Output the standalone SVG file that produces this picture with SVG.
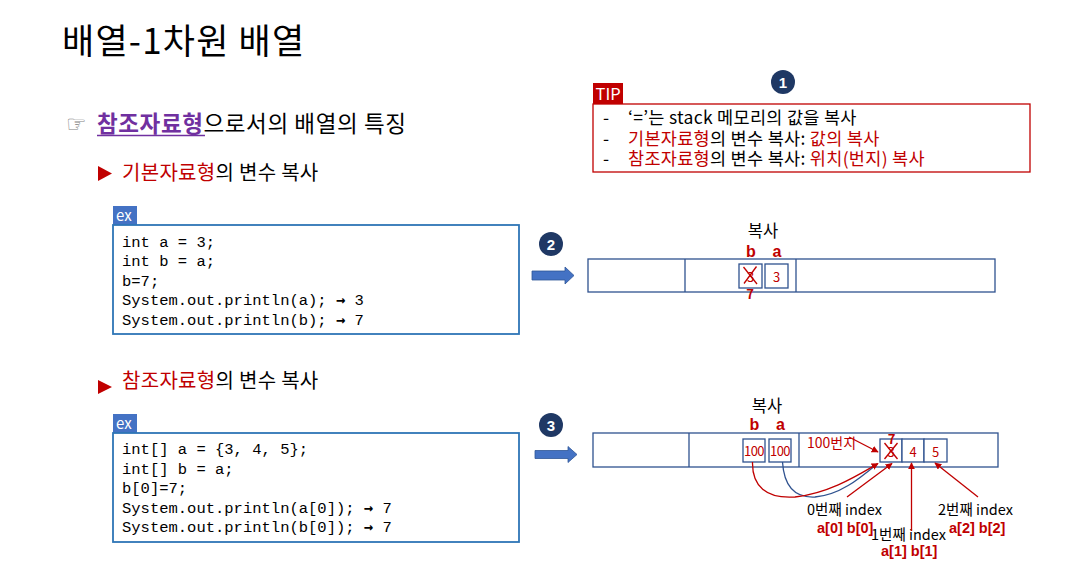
<svg xmlns="http://www.w3.org/2000/svg" width="1065" height="579" viewBox="0 0 1065 579">
<style>
.k{font-family:"Noto Sans CJK KR","Liberation Sans",sans-serif;}
.m{font-family:"Liberation Mono","DejaVu Sans Mono",monospace;font-size:15.5px;fill:#000;}
.ar{font-family:"DejaVu Sans Mono",monospace;font-weight:bold;}
.cell{fill:#fff;stroke:#2F528F;stroke-width:1.3;}
.mem{fill:#fff;stroke:#2F528F;stroke-width:1.3;}
.code{fill:#fff;stroke:#2E75B6;stroke-width:1.8;}
.exl{fill:#4472C4;}
.ext{font-family:"Noto Sans CJK KR","Liberation Sans",sans-serif;font-size:15px;fill:#fff;}
.circ{fill:#1F3864;}
.num{font-family:"Liberation Sans",sans-serif;font-size:15px;font-weight:bold;fill:#fff;text-anchor:middle;}
.barrow{fill:#4472C4;stroke:#2F5597;stroke-width:0.8;}
.rl{stroke:#C00000;stroke-width:1.3;fill:none;}
.bl{stroke:#2F528F;stroke-width:1.3;fill:none;}
.v{font-family:"Noto Sans CJK KR","Liberation Sans",sans-serif;font-size:13px;fill:#C00000;text-anchor:middle;}
.lab{font-family:"Liberation Sans",sans-serif;font-size:16px;font-weight:bold;fill:#C00000;text-anchor:middle;}
.idx{font-family:"Noto Sans CJK KR","Liberation Sans",sans-serif;font-size:14.5px;fill:#000;}
.idr{font-family:"Liberation Sans",sans-serif;font-size:14.5px;font-weight:bold;fill:#C00000;}
.tip{font-family:"Noto Sans CJK KR","Liberation Sans",sans-serif;font-size:17.5px;letter-spacing:0.3px;fill:#000;}
</style>
<defs>
<marker id="ah" viewBox="0 0 10 10" refX="9" refY="5" markerWidth="7" markerHeight="7" orient="auto" markerUnits="userSpaceOnUse">
<path d="M0,0 L10,5 L0,10 z" fill="#C00000"/>
</marker>
</defs>
<rect width="1065" height="579" fill="#fff"/>

<g id="title">
<text class="k" x="62" y="54" font-size="35" letter-spacing="1.2" fill="#000">배열-1차원 배열</text>
</g>

<g id="subtitle">
<text x="66" y="132" font-family="DejaVu Sans,sans-serif" font-size="23" fill="#808080">☞</text>
<text class="k" x="97" y="132" font-size="22.5" letter-spacing="0.6" fill="#000"><tspan fill="#7030A0" font-weight="bold">참조자료형</tspan>으로서의 배열의 특징</text>
<line x1="97" y1="135.5" x2="205" y2="135.5" stroke="#7030A0" stroke-width="1.6"/>
</g>

<g id="heading1">
<polygon points="98,166 112,173.5 98,181" fill="#C00000"/>
<text class="k" x="122" y="180" font-size="20" letter-spacing="0.3" fill="#000"><tspan fill="#C00000">기본자료형</tspan>의 변수 복사</text>
</g>

<g id="heading2">
<polygon points="98,380 112,387 98,394" fill="#C00000"/>
<text class="k" x="122" y="388" font-size="20" letter-spacing="0.3" fill="#000"><tspan fill="#C00000">참조자료형</tspan>의 변수 복사</text>
</g>

<g id="tip">
<rect x="593" y="83" width="30" height="21" fill="#C00000"/>
<text x="595.5" y="100" font-family="Noto Sans CJK KR,Liberation Sans,sans-serif" font-size="16.5" fill="#fff">TIP</text>
<rect x="593" y="104" width="437" height="68" fill="#fff" stroke="#C00000" stroke-width="1.3"/>
<text class="tip" x="603" y="124">-</text>
<text class="tip" x="628" y="124">‘=’는 stack 메모리의 값을 복사</text>
<text class="tip" x="603" y="144.5" fill="#C00000">-</text>
<text class="tip" x="628" y="144.5"><tspan fill="#C00000">기본자료형</tspan>의 변수 복사: <tspan fill="#C00000">값의 복사</tspan></text>
<text class="tip" x="603" y="165" fill="#C00000">-</text>
<text class="tip" x="628" y="165"><tspan fill="#C00000">참조자료형</tspan>의 변수 복사: <tspan fill="#C00000">위치(번지) 복사</tspan></text>
</g>

<g id="badge1">
<circle class="circ" cx="783" cy="82" r="12"/>
<text class="num" x="783" y="87.5">1</text>
</g>
<g id="badge2">
<circle class="circ" cx="551" cy="244" r="12"/>
<text class="num" x="551" y="249.5">2</text>
</g>
<g id="badge3">
<circle class="circ" cx="551" cy="425" r="12"/>
<text class="num" x="551" y="430.5">3</text>
</g>

<g id="code1">
<rect class="exl" x="113" y="206" width="24" height="19"/>
<text class="ext" x="116" y="221">ex</text>
<rect class="code" x="113" y="225" width="406" height="109"/>
<text class="m" x="122" y="246.5">int a = 3;</text>
<text class="m" x="122" y="266">int b = a;</text>
<text class="m" x="122" y="285.5">b=7;</text>
<text class="m" x="122" y="305">System.out.println(a); <tspan class="ar">→</tspan> 3</text>
<text class="m" x="122" y="324.5">System.out.println(b); <tspan class="ar">→</tspan> 7</text>
</g>

<g id="code2">
<rect class="exl" x="113" y="414" width="24" height="19"/>
<text class="ext" x="116" y="429">ex</text>
<rect class="code" x="113" y="433" width="406" height="109"/>
<text class="m" x="122" y="454">int[] a = {3, 4, 5};</text>
<text class="m" x="122" y="473.5">int[] b = a;</text>
<text class="m" x="122" y="493">b[0]=7;</text>
<text class="m" x="122" y="512.5">System.out.println(a[0]); <tspan class="ar">→</tspan> 7</text>
<text class="m" x="122" y="532">System.out.println(b[0]); <tspan class="ar">→</tspan> 7</text>
</g>

<g id="arrow2">
<polygon class="barrow" points="532,271 565,271 565,267 574,275.5 565,284 565,280 532,280"/>
</g>
<g id="arrow3">
<polygon class="barrow" points="535,450.5 568,450.5 568,446.5 577,454.5 568,462.5 568,458.5 535,458.5"/>
</g>

<g id="memory1">
<rect class="mem" x="588" y="259" width="407" height="33"/>
<line class="bl" x1="685" y1="259" x2="685" y2="292"/>
<line class="bl" x1="796" y1="259" x2="796" y2="292"/>
<text class="k" x="763" y="237" font-size="16.5" fill="#000" text-anchor="middle">복사</text>
<text class="lab" x="751" y="257">b</text>
<text class="lab" x="777" y="257">a</text>
<rect class="cell" x="739" y="264" width="23" height="24"/>
<rect class="cell" x="765" y="264" width="23" height="24"/>
<text class="v" x="750.5" y="281.5">3</text>
<line class="rl" x1="743.5" y1="267" x2="757" y2="284"/>
<line class="rl" x1="756.5" y1="266.5" x2="744" y2="283.5"/>
<text class="v" x="776.5" y="281.5">3</text>
<text class="v" x="750" y="299" font-weight="bold">7</text>
</g>

<g id="memory2">
<rect class="mem" x="593" y="433" width="405" height="34"/>
<line class="bl" x1="689" y1="433" x2="689" y2="467"/>
<line class="bl" x1="799" y1="433" x2="799" y2="467"/>
<text class="k" x="767" y="411.5" font-size="16.5" fill="#000" text-anchor="middle">복사</text>
<text class="lab" x="754.5" y="430">b</text>
<text class="lab" x="780.5" y="430">a</text>
<rect class="cell" x="743" y="439" width="22" height="23"/>
<rect class="cell" x="769" y="439" width="22" height="23"/>
<text class="v" x="754" y="455.5" letter-spacing="-0.5">100</text>
<text class="v" x="780" y="455.5" letter-spacing="-0.5">100</text>
<text class="k" x="807" y="448" font-size="14" fill="#C00000">100번지</text>
<rect class="cell" x="880" y="439" width="22" height="23"/>
<rect class="cell" x="902" y="439" width="22" height="23"/>
<rect class="cell" x="924" y="439" width="23" height="23"/>
<text class="v" x="891" y="456.5">3</text>
<line class="rl" x1="884.5" y1="443" x2="897.5" y2="459"/>
<line class="rl" x1="897.5" y1="443" x2="884.5" y2="459"/>
<text class="v" x="891.5" y="444" font-weight="bold">7</text>
<text class="v" x="913" y="456.5">4</text>
<text class="v" x="935.5" y="456.5">5</text>
<text class="idx" x="807" y="515">0번째 index</text>
<text class="idr" x="817" y="533">a[0] b[0]</text>
<text class="idx" x="871" y="540">1번째 index</text>
<text class="idr" x="881" y="556">a[1] b[1]</text>
<text class="idx" x="938" y="515">2번째 index</text>
<text class="idr" x="949" y="533">a[2] b[2]</text>
</g>

<g id="connectors">
<path class="bl" d="M782.5,462 C784,486 795,498 815,497 C840,495 860,478 877,464"/>
<path class="rl" d="M752.5,462 C752,486 766,499 795,497 C830,493 858,475 878,463.5" marker-end="url(#ah)"/>
<line class="rl" x1="849" y1="437" x2="878" y2="452" marker-end="url(#ah)"/>
<line class="rl" x1="847" y1="497" x2="892" y2="463.5" marker-end="url(#ah)"/>
<line class="rl" x1="911.5" y1="531" x2="911.5" y2="463" marker-end="url(#ah)"/>
<line class="rl" x1="978" y1="497" x2="935" y2="463" marker-end="url(#ah)"/>
</g>
</svg>
